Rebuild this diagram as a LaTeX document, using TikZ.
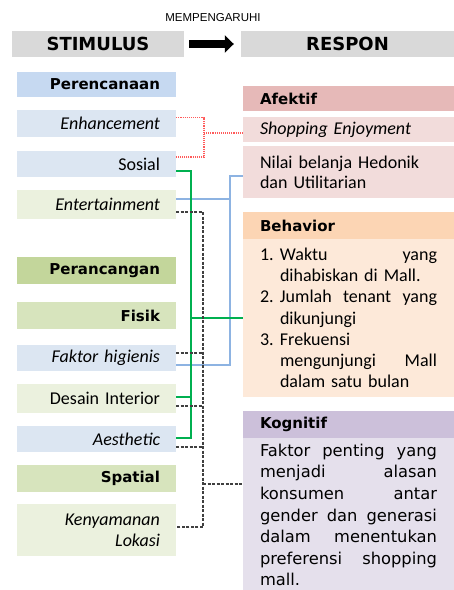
\documentclass[tikz,border=0pt]{standalone}
\usepackage{fontspec}
\setmainfont{Carlito}
\newfontfamily\vfont{DejaVu Sans}
\newfontfamily\lfont{Liberation Sans}
\usetikzlibrary{arrows.meta,calc}
\definecolor{cgray}{HTML}{D9D9D9}
\definecolor{cblueA}{HTML}{C6D9F1}
\definecolor{cblueB}{HTML}{DCE6F2}
\definecolor{cgreenA}{HTML}{C3D69B}
\definecolor{cgreenB}{HTML}{D7E4BD}
\definecolor{cgreenC}{HTML}{EBF1DE}
\definecolor{credA}{HTML}{E6B9B8}
\definecolor{credB}{HTML}{F2DCDB}
\definecolor{corA}{HTML}{FCD5B4}
\definecolor{corB}{HTML}{FDE9D9}
\definecolor{cpuA}{HTML}{CCC0DA}
\definecolor{cpuB}{HTML}{E5E0EC}
\definecolor{credline}{HTML}{FF5A5A}
\definecolor{cblueline}{HTML}{8DB3E2}
\definecolor{cgreenline}{HTML}{00B050}
\definecolor{cdash}{HTML}{404040}
\newcommand{\jb}[2]{\makebox[#1][s]{#2}}
\begin{document}
\begin{tikzpicture}[x=1pt,y=-1pt,
  lbox/.style={text width=127pt, inner xsep=16pt, inner ysep=0pt, align=right, font=\fontsize{18}{21}\selectfont},
  lbold/.style={font=\vfont\bfseries\fontsize{15}{18}\selectfont},
  ital/.style={font=\fontsize{18}{21}\selectfont\itshape},
  rbox/.style={text width=177pt, inner xsep=17pt, inner ysep=0pt, align=left, font=\fontsize{18}{20}\selectfont},
  topbox/.style={fill=cgray, inner sep=0pt, font=\vfont\bfseries\fontsize{18}{20}\selectfont},
  redl/.style={draw=credline, line width=1.1pt, densely dotted},
  bluel/.style={draw=cblueline, line width=2.4pt},
  greenl/.style={draw=cgreenline, line width=1.3pt},
  dashl/.style={draw=cdash, line width=1.1pt, dash pattern=on 3pt off 1.5pt},
]
\useasboundingbox[fill=white] (0,0) rectangle (454,590);

% top row
\node[font=\lfont\fontsize{11.5}{13}\selectfont] (mem) at (213,18) {MEMPENGARUHI};
\node[topbox, minimum width=172pt, minimum height=26pt] (stim) at (98,44) {STIMULUS};
\node[topbox, minimum width=213pt, minimum height=26pt] (resp) at (347.5,44) {RESPON};
\draw[line width=8pt, -{Triangle[length=9pt,width=17pt]}] ([xshift=5pt]stim.east) -- ([xshift=-7pt]resp.west);

% left column
\node[lbox, lbold, fill=cblueA, minimum height=25pt] (per) at (96.5,84.5) {Perencanaan};
\node[lbox, ital, fill=cblueB, minimum height=27pt] (enh) at (96.5,123.5) {Enhancement};
\node[lbox, fill=cblueB, minimum height=26pt] (sos) at (96.5,164) {Sosial};
\node[lbox, ital, fill=cgreenC, minimum height=29pt] (ent) at (96.5,204.5) {Entertainment};
\node[lbox, lbold, fill=cgreenA, minimum height=27pt] (pcg) at (96.5,270.5) {Perancangan};
\node[lbox, lbold, fill=cgreenB, minimum height=27pt] (fis) at (96.5,315.5) {Fisik};
\node[lbox, ital, fill=cblueB, minimum height=26pt] (fhg) at (96.5,358) {Faktor higienis};
\node[lbox, fill=cgreenC, minimum height=29pt] (des) at (96.5,398.5) {Desain Interior};
\node[lbox, ital, fill=cblueB, minimum height=26pt] (aes) at (96.5,439) {Aesthetic};
\node[lbox, lbold, fill=cgreenB, minimum height=27pt] (spa) at (96.5,478.5) {Spatial};
\node[lbox, ital, fill=cgreenC, minimum height=52pt] (key) at (96.5,530) {Kenyamanan\\Lokasi};

% right column
\node[rbox, lbold, fill=credA, minimum height=25pt] (afk) at (348.5,98.5) {Afektif};
\node[rbox, ital, fill=credB, minimum height=25pt] (shop) at (348.5,129.5) {Shopping Enjoyment};
\node[rbox, fill=credB, minimum height=52pt] (nil) at (348.5,172) {Nilai belanja Hedonik\\dan Utilitarian};
\node[rbox, lbold, fill=corA, minimum height=27pt] (behh) at (348.5,225.5) {Behavior};
\node[rbox, fill=corB, minimum height=158pt, font=\fontsize{18}{21.2}\selectfont] (behb) at (348.5,318) {%
\makebox[20pt][l]{1.}\jb{157pt}{Waktu\hfill yang}\\
\hspace*{20pt}dihabiskan di Mall.\\
\makebox[20pt][l]{2.}\jb{157pt}{Jumlah\hfill tenant\hfill yang}\\
\hspace*{20pt}dikunjungi\\
\makebox[20pt][l]{3.}Frekuensi\\
\hspace*{20pt}\jb{157pt}{mengunjungi\hfill Mall}\\
\hspace*{20pt}dalam satu bulan};
\node[rbox, lbold, fill=cpuA, minimum height=27pt] (kogh) at (348.5,424.5) {Kognitif};
\fill[cpuB] (243,438) rectangle (454,590);
\node[rbox, fill=cpuB, minimum height=150pt, font=\vfont\fontsize{16.3}{21.6}\selectfont] (kogb) at (348.5,515) {%
\jb{177pt}{Faktor\hfill penting\hfill yang}\\
\jb{177pt}{menjadi\hfill alasan}\\
\jb{177pt}{konsumen\hfill antar}\\
\jb{177pt}{gender\hfill dan\hfill generasi}\\
\jb{177pt}{dalam\hfill menentukan}\\
\jb{177pt}{preferensi\hfill shopping}\\
mall.};

% red dotted connectors
\coordinate (rj) at (204,133);
\draw[redl] ([yshift=6pt]enh.east) -| (rj) |- ([yshift=7pt]sos.east);
\draw[redl] (rj) -- (rj -| shop.west);

% blue connectors
\coordinate (bt) at (230,176);
\coordinate (bm) at (230,199);
\coordinate (bb) at (230,365);
\draw[bluel] (bt -| nil.west) -- (bt) -- (bb) -- (bb -| fhg.east);
\draw[bluel] ([yshift=5.5pt]ent.east) -- (bm);

% green connectors
\coordinate (gt) at (191,171);
\coordinate (gb) at (191,438);
\draw[greenl] ([yshift=-7pt]sos.east) -- (gt) -- (gb) -- (gb -| aes.east);
\draw[greenl] ([yshift=1.5pt]des.east) -- ++(15,0);
\draw[greenl] (behb.west -| gt) -- (behb.west);

% black dashed connectors
\coordinate (dt) at (203,212);
\coordinate (db) at (203,527);
\coordinate (kj) at (203,484);
\draw[dashl] ([yshift=-7.5pt]ent.east) -- (dt) -- (db) -- (db -| key.east);
\draw[dashl] ([yshift=5pt]fhg.east) -- ++(27,0);
\draw[dashl] ([yshift=-7.5pt]des.east) -- ++(27,0);
\draw[dashl] ([yshift=-8pt]aes.east) -- ++(27,0);
\draw[dashl] (kj) -- (kj -| kogb.west);
\end{tikzpicture}
\end{document}
